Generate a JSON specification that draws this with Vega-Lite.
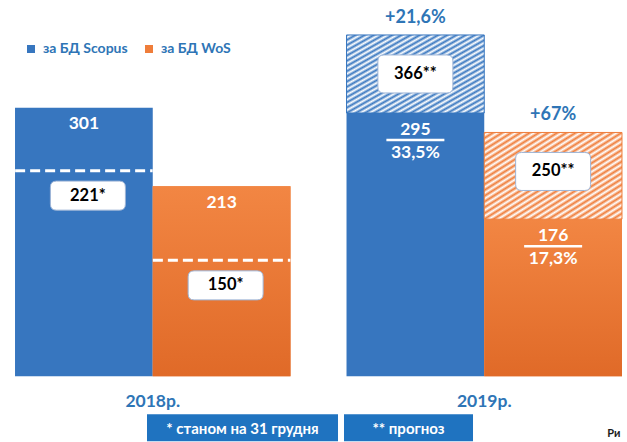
{
  "$schema": "https://vega.github.io/schema/vega-lite/v6.json",
  "width": 627,
  "height": 442,
  "autosize": {"type": "fit", "contains": "padding"},
  "padding": 0,
  "background": "white",
  "config": {"view": {"stroke": null}, "font": "Lato"},
  "datasets": {
    "bars": [
      {"year": "2018", "db": "за БД Scopus", "value": 301, "line": 230.4, "note": "221*"},
      {"year": "2018", "db": "за БД WoS", "value": 213, "line": 129.8, "note": "150*"},
      {"year": "2019", "db": "за БД Scopus", "value": 295, "share": "33,5%", "fcTop": 382.5, "forecast": "366**", "growth": "+21,6%"},
      {"year": "2019", "db": "за БД WoS", "value": 176, "share": "17,3%", "fcTop": 273.2, "forecast": "250**", "growth": "+67%"}
    ],
    "years": [
      {"year": "2018", "label": "2018р.", "note": "* станом на 31 грудня"},
      {"year": "2019", "label": "2019р.", "note": "** прогноз"}
    ]
  },
  "layer": [
    {
      "data": {"name": "bars"},
      "mark": {"type": "bar", "width": {"band": 1}},
      "encoding": {
        "x": {"field": "year", "type": "nominal", "axis": null, "scale": {"domain": ["2018", "2019"], "paddingInner": 0.169, "paddingOuter": 0.0302, "align": 0.75}},
        "xOffset": {"field": "db", "type": "nominal", "scale": {"domain": ["за БД Scopus", "за БД WoS"], "paddingInner": 0, "paddingOuter": 0}},
        "y": {"field": "value", "type": "quantitative", "axis": null, "scale": {"domain": [-72.7, 421.7], "nice": false, "zero": false}},
        "y2": {"datum": 0},
        "color": {
          "field": "db", "type": "nominal",
          "scale": {"domain": ["за БД Scopus", "за БД WoS"], "range": ["#3776bf", "#ef7d3a"]},
          "legend": {"orient": "none", "legendX": 24, "legendY": 42, "direction": "horizontal", "title": null, "symbolType": "square", "symbolSize": 64, "symbolStrokeWidth": 0, "labelFont": "Lato", "labelFontWeight": "bold", "labelFontSize": 14, "labelColor": "#2e75b6", "columnPadding": 14, "labelOffset": 5}
        }
      }
    },
    {
      "data": {"name": "bars"},
      "transform": [{"filter": "datum.db === 'за БД WoS'"}],
      "mark": {"type": "bar", "width": {"band": 1}, "fill": {"gradient": "linear", "x1": 0, "y1": 0, "x2": 0, "y2": 1, "stops": [{"offset": 0, "color": "#f28643"}, {"offset": 1, "color": "#e06a28"}]}},
      "encoding": {
        "x": {"field": "year", "type": "nominal", "axis": null},
        "xOffset": {"field": "db", "type": "nominal"},
        "y": {"field": "value", "type": "quantitative", "axis": null},
        "y2": {"datum": 0}
      }
    },
    {
      "data": {"name": "bars"},
      "transform": [{"filter": "isValid(datum.fcTop) && datum.db === 'за БД Scopus'"}],
      "mark": {"type": "bar", "width": {"band": 1}, "stroke": "#3776bf", "strokeWidth": 1, "fill": {"gradient": "linear", "x1": 0, "y1": 0, "x2": 1, "y2": 1, "stops": [
        {"offset": 0, "color": "#3a78c0"}, {"offset": 0.0167, "color": "#ffffff"}, {"offset": 0.0333, "color": "#3a78c0"}, {"offset": 0.05, "color": "#ffffff"},
        {"offset": 0.0667, "color": "#3a78c0"}, {"offset": 0.0833, "color": "#ffffff"}, {"offset": 0.1, "color": "#3a78c0"}, {"offset": 0.1167, "color": "#ffffff"},
        {"offset": 0.1333, "color": "#3a78c0"}, {"offset": 0.15, "color": "#ffffff"}, {"offset": 0.1667, "color": "#3a78c0"}, {"offset": 0.1833, "color": "#ffffff"},
        {"offset": 0.2, "color": "#3a78c0"}, {"offset": 0.2167, "color": "#ffffff"}, {"offset": 0.2333, "color": "#3a78c0"}, {"offset": 0.25, "color": "#ffffff"},
        {"offset": 0.2667, "color": "#3a78c0"}, {"offset": 0.2833, "color": "#ffffff"}, {"offset": 0.3, "color": "#3a78c0"}, {"offset": 0.3167, "color": "#ffffff"},
        {"offset": 0.3333, "color": "#3a78c0"}, {"offset": 0.35, "color": "#ffffff"}, {"offset": 0.3667, "color": "#3a78c0"}, {"offset": 0.3833, "color": "#ffffff"},
        {"offset": 0.4, "color": "#3a78c0"}, {"offset": 0.4167, "color": "#ffffff"}, {"offset": 0.4333, "color": "#3a78c0"}, {"offset": 0.45, "color": "#ffffff"},
        {"offset": 0.4667, "color": "#3a78c0"}, {"offset": 0.4833, "color": "#ffffff"}, {"offset": 0.5, "color": "#3a78c0"}, {"offset": 0.5167, "color": "#ffffff"},
        {"offset": 0.5333, "color": "#3a78c0"}, {"offset": 0.55, "color": "#ffffff"}, {"offset": 0.5667, "color": "#3a78c0"}, {"offset": 0.5833, "color": "#ffffff"},
        {"offset": 0.6, "color": "#3a78c0"}, {"offset": 0.6167, "color": "#ffffff"}, {"offset": 0.6333, "color": "#3a78c0"}, {"offset": 0.65, "color": "#ffffff"},
        {"offset": 0.6667, "color": "#3a78c0"}, {"offset": 0.6833, "color": "#ffffff"}, {"offset": 0.7, "color": "#3a78c0"}, {"offset": 0.7167, "color": "#ffffff"},
        {"offset": 0.7333, "color": "#3a78c0"}, {"offset": 0.75, "color": "#ffffff"}, {"offset": 0.7667, "color": "#3a78c0"}, {"offset": 0.7833, "color": "#ffffff"},
        {"offset": 0.8, "color": "#3a78c0"}, {"offset": 0.8167, "color": "#ffffff"}, {"offset": 0.8333, "color": "#3a78c0"}, {"offset": 0.85, "color": "#ffffff"},
        {"offset": 0.8667, "color": "#3a78c0"}, {"offset": 0.8833, "color": "#ffffff"}, {"offset": 0.9, "color": "#3a78c0"}, {"offset": 0.9167, "color": "#ffffff"},
        {"offset": 0.9333, "color": "#3a78c0"}, {"offset": 0.95, "color": "#ffffff"}, {"offset": 0.9667, "color": "#3a78c0"}, {"offset": 0.9833, "color": "#ffffff"},
        {"offset": 1, "color": "#3a78c0"}
      ]}},
      "encoding": {
        "x": {"field": "year", "type": "nominal", "axis": null},
        "xOffset": {"field": "db", "type": "nominal"},
        "y": {"field": "fcTop", "type": "quantitative", "axis": null},
        "y2": {"field": "value"}
      }
    },
    {
      "data": {"name": "bars"},
      "transform": [{"filter": "isValid(datum.fcTop) && datum.db === 'за БД WoS'"}],
      "mark": {"type": "bar", "width": {"band": 1}, "stroke": "#ef7d3a", "strokeWidth": 1, "fill": {"gradient": "linear", "x1": 0, "y1": 0, "x2": 1, "y2": 1, "stops": [
        {"offset": 0, "color": "#ef7d3a"}, {"offset": 0.0167, "color": "#ffffff"}, {"offset": 0.0333, "color": "#ef7d3a"}, {"offset": 0.05, "color": "#ffffff"},
        {"offset": 0.0667, "color": "#ef7d3a"}, {"offset": 0.0833, "color": "#ffffff"}, {"offset": 0.1, "color": "#ef7d3a"}, {"offset": 0.1167, "color": "#ffffff"},
        {"offset": 0.1333, "color": "#ef7d3a"}, {"offset": 0.15, "color": "#ffffff"}, {"offset": 0.1667, "color": "#ef7d3a"}, {"offset": 0.1833, "color": "#ffffff"},
        {"offset": 0.2, "color": "#ef7d3a"}, {"offset": 0.2167, "color": "#ffffff"}, {"offset": 0.2333, "color": "#ef7d3a"}, {"offset": 0.25, "color": "#ffffff"},
        {"offset": 0.2667, "color": "#ef7d3a"}, {"offset": 0.2833, "color": "#ffffff"}, {"offset": 0.3, "color": "#ef7d3a"}, {"offset": 0.3167, "color": "#ffffff"},
        {"offset": 0.3333, "color": "#ef7d3a"}, {"offset": 0.35, "color": "#ffffff"}, {"offset": 0.3667, "color": "#ef7d3a"}, {"offset": 0.3833, "color": "#ffffff"},
        {"offset": 0.4, "color": "#ef7d3a"}, {"offset": 0.4167, "color": "#ffffff"}, {"offset": 0.4333, "color": "#ef7d3a"}, {"offset": 0.45, "color": "#ffffff"},
        {"offset": 0.4667, "color": "#ef7d3a"}, {"offset": 0.4833, "color": "#ffffff"}, {"offset": 0.5, "color": "#ef7d3a"}, {"offset": 0.5167, "color": "#ffffff"},
        {"offset": 0.5333, "color": "#ef7d3a"}, {"offset": 0.55, "color": "#ffffff"}, {"offset": 0.5667, "color": "#ef7d3a"}, {"offset": 0.5833, "color": "#ffffff"},
        {"offset": 0.6, "color": "#ef7d3a"}, {"offset": 0.6167, "color": "#ffffff"}, {"offset": 0.6333, "color": "#ef7d3a"}, {"offset": 0.65, "color": "#ffffff"},
        {"offset": 0.6667, "color": "#ef7d3a"}, {"offset": 0.6833, "color": "#ffffff"}, {"offset": 0.7, "color": "#ef7d3a"}, {"offset": 0.7167, "color": "#ffffff"},
        {"offset": 0.7333, "color": "#ef7d3a"}, {"offset": 0.75, "color": "#ffffff"}, {"offset": 0.7667, "color": "#ef7d3a"}, {"offset": 0.7833, "color": "#ffffff"},
        {"offset": 0.8, "color": "#ef7d3a"}, {"offset": 0.8167, "color": "#ffffff"}, {"offset": 0.8333, "color": "#ef7d3a"}, {"offset": 0.85, "color": "#ffffff"},
        {"offset": 0.8667, "color": "#ef7d3a"}, {"offset": 0.8833, "color": "#ffffff"}, {"offset": 0.9, "color": "#ef7d3a"}, {"offset": 0.9167, "color": "#ffffff"},
        {"offset": 0.9333, "color": "#ef7d3a"}, {"offset": 0.95, "color": "#ffffff"}, {"offset": 0.9667, "color": "#ef7d3a"}, {"offset": 0.9833, "color": "#ffffff"},
        {"offset": 1, "color": "#ef7d3a"}
      ]}},
      "encoding": {
        "x": {"field": "year", "type": "nominal", "axis": null},
        "xOffset": {"field": "db", "type": "nominal"},
        "y": {"field": "fcTop", "type": "quantitative", "axis": null},
        "y2": {"field": "value"}
      }
    },
    {
      "data": {"name": "bars"},
      "transform": [{"filter": "isValid(datum.line)"}],
      "mark": {"type": "point", "shape": "M-1,0L1,0", "size": 18906, "filled": false, "stroke": "#ffffff", "strokeWidth": 3, "strokeDash": [10, 5], "opacity": 1},
      "encoding": {
        "x": {"field": "year", "type": "nominal", "axis": null},
        "xOffset": {"field": "db", "type": "nominal"},
        "y": {"field": "line", "type": "quantitative", "axis": null}
      }
    },
    {
      "data": {"name": "bars"},
      "transform": [{"filter": "isValid(datum.line)"}],
      "mark": {"type": "point", "shape": "M-0.733,-0.387L0.947,-0.387Q1.107,-0.387 1.107,-0.227L1.107,0.227Q1.107,0.387 0.947,0.387L-0.733,0.387Q-0.893,0.387 -0.893,0.227L-0.893,-0.227Q-0.893,-0.387 -0.733,-0.387Z", "size": 5625, "filled": true, "fill": "#ffffff", "stroke": "#9db4d6", "strokeWidth": 1, "opacity": 1, "yOffset": 25},
      "encoding": {
        "x": {"field": "year", "type": "nominal", "axis": null},
        "xOffset": {"field": "db", "type": "nominal"},
        "y": {"field": "line", "type": "quantitative", "axis": null}
      }
    },
    {
      "data": {"name": "bars"},
      "transform": [{"filter": "isValid(datum.line)"}],
      "mark": {"type": "text", "dx": 4, "dy": 25, "fontSize": 16.5, "fontWeight": "bold", "color": "#000000", "baseline": "middle"},
      "encoding": {
        "x": {"field": "year", "type": "nominal", "axis": null},
        "xOffset": {"field": "db", "type": "nominal"},
        "y": {"field": "line", "type": "quantitative", "axis": null},
        "text": {"field": "note"}
      }
    },
    {
      "data": {"name": "bars"},
      "transform": [{"filter": "isValid(datum.fcTop)"}],
      "mark": {"type": "point", "shape": "M-0.84,-0.507L0.84,-0.507Q1,-0.507 1,-0.347L1,0.347Q1,0.507 0.84,0.507L-0.84,0.507Q-1,0.507 -1,0.347L-1,-0.347Q-1,-0.507 -0.84,-0.507Z", "size": 5625, "filled": true, "fill": "#ffffff", "stroke": "#9db4d6", "strokeWidth": 1, "opacity": 1, "yOffset": 39},
      "encoding": {
        "x": {"field": "year", "type": "nominal", "axis": null},
        "xOffset": {"field": "db", "type": "nominal"},
        "y": {"field": "fcTop", "type": "quantitative", "axis": null}
      }
    },
    {
      "data": {"name": "bars"},
      "transform": [{"filter": "isValid(datum.fcTop)"}],
      "mark": {"type": "text", "dy": 39, "fontSize": 16.5, "fontWeight": "bold", "color": "#000000", "baseline": "middle"},
      "encoding": {
        "x": {"field": "year", "type": "nominal", "axis": null},
        "xOffset": {"field": "db", "type": "nominal"},
        "y": {"field": "fcTop", "type": "quantitative", "axis": null},
        "text": {"field": "forecast"}
      }
    },
    {
      "data": {"name": "bars"},
      "transform": [{"filter": "isValid(datum.fcTop)"}],
      "mark": {"type": "text", "dy": -17, "fontSize": 18, "fontWeight": "bold", "color": "#2e75b6", "baseline": "middle"},
      "encoding": {
        "x": {"field": "year", "type": "nominal", "axis": null},
        "xOffset": {"field": "db", "type": "nominal"},
        "y": {"field": "fcTop", "type": "quantitative", "axis": null},
        "text": {"field": "growth"}
      }
    },
    {
      "data": {"name": "bars"},
      "mark": {"type": "text", "dy": 16.5, "fontSize": 17.5, "fontWeight": "bold", "color": "#ffffff", "baseline": "middle"},
      "encoding": {
        "x": {"field": "year", "type": "nominal", "axis": null},
        "xOffset": {"field": "db", "type": "nominal"},
        "y": {"field": "value", "type": "quantitative", "axis": null},
        "text": {"field": "value", "type": "quantitative"}
      }
    },
    {
      "data": {"name": "bars"},
      "transform": [{"filter": "isValid(datum.share)"}],
      "mark": {"type": "point", "shape": "M-1,0L1,0", "size": 3364, "filled": false, "stroke": "#ffffff", "strokeWidth": 2.5, "opacity": 1, "yOffset": 27},
      "encoding": {
        "x": {"field": "year", "type": "nominal", "axis": null},
        "xOffset": {"field": "db", "type": "nominal"},
        "y": {"field": "value", "type": "quantitative", "axis": null}
      }
    },
    {
      "data": {"name": "bars"},
      "transform": [{"filter": "isValid(datum.share)"}],
      "mark": {"type": "text", "dy": 40, "fontSize": 17.5, "fontWeight": "bold", "color": "#ffffff", "baseline": "middle"},
      "encoding": {
        "x": {"field": "year", "type": "nominal", "axis": null},
        "xOffset": {"field": "db", "type": "nominal"},
        "y": {"field": "value", "type": "quantitative", "axis": null},
        "text": {"field": "share"}
      }
    },
    {
      "data": {"name": "years"},
      "mark": {"type": "text", "dy": 26, "fontSize": 17.5, "fontWeight": "bold", "color": "#2e75b6", "baseline": "middle"},
      "encoding": {
        "x": {"field": "year", "type": "nominal", "axis": null},
        "y": {"datum": 0, "type": "quantitative", "axis": null},
        "text": {"field": "label"}
      }
    },
    {
      "data": {"name": "years"},
      "transform": [{"filter": "datum.year === '2018'"}],
      "mark": {"type": "point", "shape": "M-1,-0.1414L1,-0.1414L1,0.1414L-1,0.1414Z", "size": 36481, "filled": true, "fill": "#1f73c0", "strokeWidth": 0, "opacity": 1, "xOffset": 89.75, "yOffset": 51.5},
      "encoding": {
        "x": {"field": "year", "type": "nominal", "axis": null},
        "y": {"datum": 0, "type": "quantitative", "axis": null}
      }
    },
    {
      "data": {"name": "years"},
      "transform": [{"filter": "datum.year === '2019'"}],
      "mark": {"type": "point", "shape": "M-1,-0.2093L1,-0.2093L1,0.2093L-1,0.2093Z", "size": 16641, "filled": true, "fill": "#1f73c0", "strokeWidth": 0, "opacity": 1, "xOffset": -75.75, "yOffset": 51.5},
      "encoding": {
        "x": {"field": "year", "type": "nominal", "axis": null},
        "y": {"datum": 0, "type": "quantitative", "axis": null}
      }
    },
    {
      "data": {"name": "years"},
      "transform": [{"filter": "datum.year === '2018'"}],
      "mark": {"type": "text", "dx": 89.75, "dy": 53, "fontSize": 15, "fontWeight": "bold", "color": "#ffffff", "baseline": "middle"},
      "encoding": {
        "x": {"field": "year", "type": "nominal", "axis": null},
        "y": {"datum": 0, "type": "quantitative", "axis": null},
        "text": {"field": "note"}
      }
    },
    {
      "data": {"name": "years"},
      "transform": [{"filter": "datum.year === '2019'"}],
      "mark": {"type": "text", "dx": -75.75, "dy": 53, "fontSize": 15, "fontWeight": "bold", "color": "#ffffff", "baseline": "middle"},
      "encoding": {
        "x": {"field": "year", "type": "nominal", "axis": null},
        "y": {"datum": 0, "type": "quantitative", "axis": null},
        "text": {"field": "note"}
      }
    },
    {
      "data": {"values": [{"caption": "Ри"}]},
      "mark": {"type": "text", "dx": 123, "dy": 58, "fontSize": 11, "fontWeight": "bold", "color": "#1a1a1a", "align": "left", "baseline": "middle"},
      "encoding": {
        "x": {"datum": "2019", "type": "nominal", "axis": null},
        "y": {"datum": 0, "type": "quantitative", "axis": null},
        "text": {"field": "caption"}
      }
    }
  ]
}
